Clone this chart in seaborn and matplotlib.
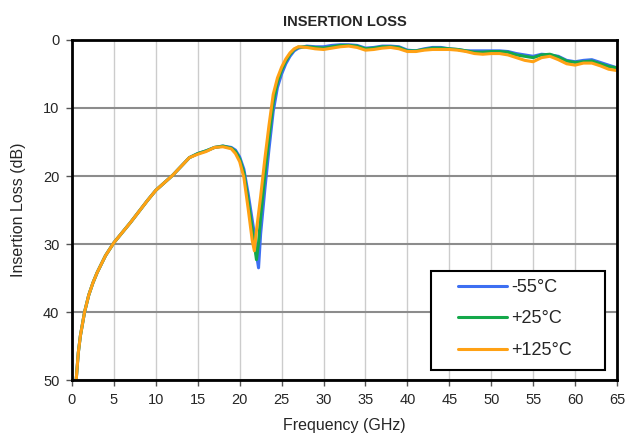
import pandas as pd
import matplotlib
matplotlib.use("Agg")
import matplotlib.pyplot as plt
from matplotlib.patches import Rectangle
import seaborn as sns

# frequencia (GHz) e perda de insercao (dB)
freq = [0.5, 0.75, 1, 1.5, 2, 2.5, 3, 4, 5, 6, 7, 8, 9, 10, 11, 12, 13, 14, 15,
        16, 17, 18, 19, 19.5, 20, 20.5, 21, 21.5, 21.75, 22, 22.25, 22.5, 23,
        23.5, 24, 24.5, 25, 25.5, 26, 26.5, 27, 28, 29, 30, 31, 32, 33, 34, 35,
        36, 37, 38, 39, 40, 41, 42, 43, 44, 45, 46, 47, 48, 49, 50, 51, 52, 53,
        54, 55, 56, 57, 58, 59, 60, 61, 62, 63, 64, 65]

loss_m55 = [50, 46, 43.5, 40, 37.5, 35.7, 34.2, 31.7, 29.8, 28.3, 26.8, 25.2, 23.6,
            22.1, 21.0, 19.9, 18.6, 17.3, 16.7, 16.3, 15.8, 15.6, 15.8, 16.2, 17.2,
            19.0, 22.5, 26.5, 28.5, 31.5, 33.5, 28.5, 22.0, 16.0, 10.5, 7.0, 5.0,
            3.5, 2.4, 1.6, 1.2, 0.9, 1.0, 1.0, 0.8, 0.7, 0.7, 0.8, 1.2, 1.1, 0.9,
            0.9, 1.0, 1.5, 1.6, 1.3, 1.1, 1.1, 1.3, 1.4, 1.6, 1.6, 1.6, 1.6, 1.6,
            1.7, 2.0, 2.2, 2.4, 2.1, 2.2, 2.4, 3.0, 3.2, 3.0, 2.9, 3.3, 3.7, 4.1]

loss_p25 = [50, 46, 43.5, 40, 37.5, 35.7, 34.2, 31.7, 29.8, 28.3, 26.8, 25.2, 23.6,
            22.1, 21.0, 19.9, 18.6, 17.3, 16.7, 16.3, 15.8, 15.6, 15.9, 16.4, 17.5,
            19.5, 23.5, 27.8, 30.0, 32.3, 29.8, 26.0, 19.8, 14.3, 9.2, 6.2, 4.4,
            3.1, 2.1, 1.4, 1.05, 1.0, 1.1, 1.2, 1.0, 0.8, 0.8, 0.9, 1.3, 1.2, 1.0,
            1.0, 1.1, 1.6, 1.6, 1.4, 1.2, 1.2, 1.3, 1.4, 1.6, 1.8, 1.8, 1.7, 1.7,
            1.8, 2.2, 2.4, 2.6, 2.2, 2.1, 2.5, 3.1, 3.3, 3.2, 3.1, 3.5, 3.9, 4.1]

loss_p125 = [50, 46, 43.5, 40, 37.5, 35.7, 34.2, 31.7, 29.8, 28.3, 26.8, 25.2, 23.6,
             22.1, 21.0, 19.9, 18.6, 17.3, 16.8, 16.4, 15.8, 15.7, 16.0, 16.7, 17.9,
             20.2, 24.7, 29.5, 31.0, 28.0, 25.5, 23.0, 17.5, 12.5, 8.0, 5.6, 4.0,
             2.8, 1.9, 1.3, 1.0, 1.1, 1.3, 1.4, 1.2, 1.0, 0.9, 1.1, 1.5, 1.4, 1.2,
             1.1, 1.3, 1.7, 1.7, 1.5, 1.4, 1.4, 1.4, 1.5, 1.7, 2.0, 2.1, 2.0, 2.0,
             2.2, 2.6, 3.0, 3.2, 2.6, 2.4, 2.9, 3.5, 3.7, 3.4, 3.4, 3.8, 4.3, 4.5]

series = ['-55°C', '+25°C', '+125°C']
cores = {'-55°C': '#3d6ff2', '+25°C': '#14a84a', '+125°C': '#ffa114'}

df = pd.concat([
    pd.DataFrame({'freq': freq, 'loss': loss_m55, 'temp': series[0]}),
    pd.DataFrame({'freq': freq, 'loss': loss_p25, 'temp': series[1]}),
    pd.DataFrame({'freq': freq, 'loss': loss_p125, 'temp': series[2]}),
])

sns.set_style('white')
plt.rcParams['font.family'] = ['Liberation Sans', 'DejaVu Sans']

fig = plt.figure(figsize=(6.26, 4.44), dpi=100)
ax = fig.add_axes([0.115, 0.144, 0.8706, 0.766])

sns.lineplot(data=df, x='freq', y='loss', hue='temp', hue_order=series,
             palette=cores, linewidth=2.2, ax=ax, sort=False)

ax.set_xlim(0, 65)
ax.set_ylim(50, 0)
ax.set_xticks(range(0, 66, 5))
ax.set_yticks(range(0, 51, 10))

# grade: vertical clara, horizontal mais escura
ax.xaxis.grid(True, color='#cccccc', linewidth=1.0)
ax.yaxis.grid(True, color='#8c8c8c', linewidth=1.5)
ax.set_axisbelow(True)

for s in ax.spines.values():
    s.set_color('black')
    s.set_linewidth(2)

ax.tick_params(axis='both', labelsize=10.5, direction='out', length=4, width=1,
               color='#555555', bottom=True, left=True, pad=5)

ax.set_xlabel('Frequency (GHz)', fontsize=11.5, labelpad=8)
ax.set_ylabel('Insertion Loss (dB)', fontsize=11.5, labelpad=12)
ax.set_title('INSERTION LOSS', fontsize=10.5, fontweight='bold', pad=10)

# caixa da legenda desenhada a parte (padding maior nas laterais)
caixa = Rectangle((0.659, 0.029), 0.319, 0.292, transform=ax.transAxes,
                  facecolor='white', edgecolor='black', linewidth=1.5,
                  zorder=4.5, clip_on=False)
ax.add_patch(caixa)

leg = ax.legend(loc='upper left', bbox_to_anchor=(0.708, 0.297), fontsize=13,
                handlelength=2.7, labelspacing=0.8, borderpad=0,
                handletextpad=0.25, frameon=False, borderaxespad=0)
leg.set_zorder(5)
for h in leg.get_lines():
    h.set_linewidth(2.2)

fig.savefig('out.png', dpi=100)
